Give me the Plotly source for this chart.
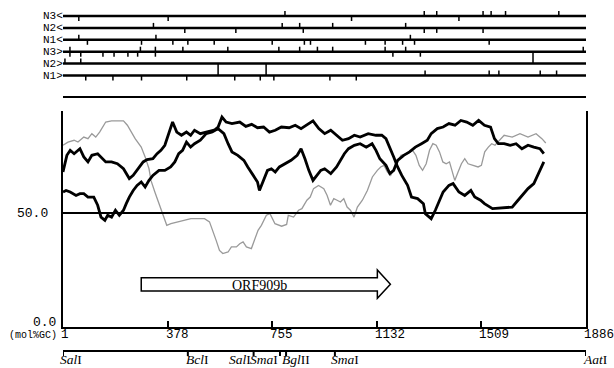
import plotly.graph_objects as go

# ---------------- data ----------------
# GC content curves (position in bp, mol% GC)
pos_a = [1, 15, 27, 41, 62, 76, 91, 105, 126, 143, 155, 176, 197, 219, 240, 254, 276, 290, 304, 325,
         340, 354, 368, 382, 396, 411, 428, 446, 461, 475, 496, 517, 546, 560, 574, 589, 610, 638, 660, 681,
         702, 724, 745, 766, 788, 816, 838, 859, 880, 902, 923, 944, 966, 987, 1008, 1030, 1051, 1072, 1101, 1129,
         1150, 1165, 1179, 1193, 1207, 1222, 1243, 1257, 1279, 1300, 1307, 1328, 1343, 1357, 1371, 1392, 1407, 1428, 1449, 1471,
         1485, 1506, 1520, 1549, 1577, 1599, 1620, 1641, 1663, 1677, 1698, 1712, 1727, 1734]
gc_a = [68.0, 75.3, 77.5, 76.0, 78.2, 74.6, 72.4, 75.3, 76.0, 73.8, 72.4, 72.4, 71.6, 69.4, 65.1, 66.5, 70.2, 72.4, 73.4, 73.8,
        76.0, 77.5, 79.7, 84.8, 89.9, 85.5, 84.1, 85.5, 84.1, 86.3, 84.8, 85.5, 86.3, 87.7, 92.1, 89.9, 89.2, 89.9, 88.0, 88.9,
        87.4, 87.7, 85.5, 86.3, 87.7, 87.4, 88.5, 87.0, 88.5, 90.4, 87.0, 84.8, 86.3, 84.1, 81.9, 82.6, 84.1, 83.3, 84.8, 84.1,
        84.1, 82.6, 78.9, 74.6, 70.2, 66.5, 62.1, 57.0, 56.3, 54.1, 49.7, 47.5, 51.2, 55.6, 59.2, 62.1, 62.9, 59.2, 57.7, 59.9,
        57.0, 55.6, 54.1, 51.9, 52.3, 52.6, 52.6, 55.6, 58.5, 60.7, 62.9, 66.5, 70.2, 72.4]

pos_b = [1, 12, 27, 48, 62, 76, 91, 112, 126, 138, 152, 162, 176, 190, 204, 219, 229, 240, 254, 268,
         283, 297, 311, 325, 347, 368, 389, 404, 418, 432, 446, 461, 475, 496, 517, 539, 560, 581, 596, 610,
         631, 653, 667, 688, 702, 709, 724, 738, 752, 766, 781, 802, 823, 845, 859, 873, 887, 902, 916, 930,
         944, 966, 987, 1001, 1015, 1030, 1051, 1072, 1094, 1115, 1129, 1143, 1165, 1179, 1193, 1207, 1229, 1250, 1271, 1293,
         1314, 1328, 1350, 1371, 1392, 1414, 1435, 1456, 1478, 1499, 1520, 1542, 1556, 1570, 1591, 1613, 1634, 1655, 1677, 1698,
         1720, 1734]
gc_b = [59.2, 59.9, 59.2, 57.7, 58.5, 58.5, 57.0, 57.0, 53.4, 48.2, 46.8, 49.0, 48.2, 51.2, 49.0, 51.2, 54.1, 57.0, 59.9, 62.1,
        63.6, 61.4, 64.3, 66.5, 68.7, 68.7, 70.2, 72.4, 76.0, 77.5, 81.1, 78.9, 80.4, 81.9, 84.8, 85.5, 87.0, 84.8, 80.4, 76.8,
        75.3, 73.1, 70.2, 66.5, 63.6, 59.9, 64.3, 68.7, 69.4, 68.0, 70.2, 71.6, 73.1, 75.3, 78.2, 73.8, 68.7, 64.3, 66.5, 68.7,
        69.4, 67.3, 70.2, 73.1, 76.0, 78.2, 79.7, 80.4, 78.9, 80.4, 77.5, 73.8, 70.9, 67.3, 68.7, 73.1, 75.3, 76.8, 78.9, 80.4,
        81.9, 84.8, 87.0, 87.7, 89.2, 88.5, 90.6, 89.9, 88.5, 90.6, 88.5, 87.7, 82.6, 80.4, 80.4, 79.7, 80.4, 78.2, 79.7, 78.9,
        78.2, 76.0]

pos_c = [1, 19, 41, 55, 76, 91, 105, 119, 133, 155, 176, 197, 219, 233, 247, 261, 283, 297, 311, 318,
         332, 347, 361, 375, 390, 414, 438, 462, 487, 511, 529, 541, 553, 565, 577, 596, 608, 626, 638, 650,
         662, 680, 692, 704, 716, 734, 747, 765, 789, 807, 813, 832, 850, 862, 880, 892, 904, 922, 941, 953,
         965, 977, 989, 1001, 1013, 1025, 1037, 1050, 1062, 1080, 1098, 1116, 1134, 1146, 1158, 1170, 1182, 1219, 1243, 1261,
         1273, 1285, 1297, 1310, 1322, 1334, 1346, 1358, 1370, 1382, 1394, 1407, 1413, 1425, 1437, 1449, 1461, 1479, 1497, 1509,
         1521, 1534, 1546, 1558, 1591, 1620, 1648, 1677, 1706, 1727, 1741]
gc_c = [79.7, 81.1, 81.9, 81.1, 83.3, 82.6, 84.8, 83.3, 85.5, 89.9, 90.4, 90.4, 90.4, 88.5, 85.5, 82.6, 78.9, 74.6, 69.4, 64.3,
        59.2, 54.1, 49.7, 44.6, 45.3, 46.1, 46.8, 47.5, 47.5, 47.5, 46.1, 42.4, 38.0, 33.6, 32.2, 32.9, 35.1, 35.1, 36.5, 37.3,
        35.1, 34.4, 38.0, 42.4, 44.6, 49.0, 49.7, 45.3, 44.2, 45.0, 49.0, 48.2, 51.2, 51.9, 55.6, 57.0, 60.7, 62.1, 60.7, 57.7,
        53.4, 56.3, 55.6, 54.8, 56.3, 52.6, 51.2, 48.2, 52.6, 55.6, 59.9, 65.8, 68.7, 70.2, 70.9, 68.0, 66.5, 75.3, 76.0, 77.5,
        75.3, 70.9, 68.7, 71.6, 77.5, 80.4, 79.7, 76.8, 72.4, 71.6, 72.4, 66.5, 64.3, 68.0, 71.6, 73.8, 71.6, 70.9, 70.2, 70.9,
        76.8, 78.9, 80.4, 79.7, 84.1, 83.3, 84.8, 83.3, 84.8, 82.6, 80.7]

# Reading frames (top to bottom) and codon marks (bp)
frames = ["N3<", "N2<", "N1<", "N3>", "N2>", "N1>"]
marks_up = [
    [801, 1303, 1348, 1515, 1544, 1596, 1788],
    [327, 791, 854, 973, 1236],
    [58, 336, 1253],
    [26, 280, 334, 433, 595, 779, 854, 918, 973, 1162, 1236, 1876],
    [8, 65],
    [1306, 1537, 1572, 1721, 1780],
]
marks_down = [
    [58, 380, 1041, 1428],
    [440, 624, 867, 1303, 1348, 1515],
    [89, 284, 397, 451, 546, 755, 871, 893, 1091, 1162, 1225, 1268, 1537],
    [26, 65, 145, 185, 235, 270, 334, 1190, 1289],
    [],
    [83, 181, 284, 447, 620, 712, 761, 963, 1058],
]
marks_long = [[], [], [], [1695], [560, 733], []]

seq_start, seq_end = 1, 1886
axis_ticks = [1, 378, 755, 1132, 1509, 1886]
y_ticks = [0.0, 50.0]

sites = [1, 451, 688, 783, 805, 981, 1886]
site_names = ["SalI", "BclI", "SalI", "SmaI", "BglII", "SmaI", "AatI"]

orf_name = "ORF909b"
orf_start, orf_end = 283, 1181

# ---------------- layout constants (pixels) ----------------
W, H = 614, 368
PX_L, PX_R = 63, 586
PX_Y0, PX_YTOP = 327, 111
Y_TOP_VAL = 50.0 * (PX_Y0 - PX_YTOP) / (PX_Y0 - 213)
ROW_TOP, ROW_STEP = 16, 11.9
ROW_Y = [ROW_TOP + i * ROW_STEP for i in range(len(frames))]
SEP_Y = 97
TICK = 5
MAP_Y = 351

MONO = "Liberation Mono, DejaVu Sans Mono, monospace"
SERIF = "Liberation Serif, Times New Roman, serif"

fig = go.Figure()

# GC curves
fig.add_trace(go.Scatter(x=pos_c, y=gc_c, mode="lines", line=dict(color="#9a9a9a", width=1.3),
                         hoverinfo="skip"))
for px_, gy in [(pos_a, gc_a), (pos_b, gc_b)]:
    fig.add_trace(go.Scatter(x=px_, y=gy, mode="lines", line=dict(color="black", width=2.8),
                             hoverinfo="skip"))

# 50% line
fig.add_trace(go.Scatter(x=[seq_start, seq_end], y=[50, 50], mode="lines",
                         line=dict(color="black", width=2), hoverinfo="skip"))

# ORF arrow
head = 47
y_lo, y_hi, y_hlo, y_hhi = 15.8, 21.6, 12.6, 25.0
path = (f"M {orf_start},{y_lo} L {orf_end-head},{y_lo} L {orf_end-head},{y_hlo} L {orf_end},{(y_lo+y_hi)/2} "
        f"L {orf_end-head},{y_hhi} L {orf_end-head},{y_hi} L {orf_start},{y_hi} Z")
fig.add_shape(type="path", path=path, xref="x", yref="y", line=dict(color="black", width=1.5),
              fillcolor="white")
fig.add_annotation(x=(orf_start + orf_end - head) / 2, y=(y_lo + y_hi) / 2 - 0.6, xref="x", yref="y",
                   text=orf_name, showarrow=False, font=dict(family=SERIF, size=14, color="black"))

# Frame rows (y2 in pixels from top)
fx, fy = [], []
for r in range(len(frames)):
    y0 = ROW_Y[r]
    fx += [seq_start, seq_end, None]
    fy += [y0, y0, None]
fig.add_trace(go.Scatter(x=fx, y=fy, yaxis="y2", mode="lines", line=dict(color="black", width=2.5),
                         hoverinfo="skip"))
tx, ty = [], []
for r in range(len(frames)):
    y0 = ROW_Y[r]
    for p in marks_up[r]:
        tx += [p, p, None]; ty += [y0, y0 - TICK, None]
    for p in marks_down[r]:
        tx += [p, p, None]; ty += [y0, y0 + TICK, None]
    for p in marks_long[r]:
        tx += [p, p, None]; ty += [y0, ROW_Y[r + 1], None]
fig.add_trace(go.Scatter(x=tx, y=ty, yaxis="y2", mode="lines", line=dict(color="black", width=1.5),
                         hoverinfo="skip"))
fig.add_trace(go.Scatter(x=[seq_start, seq_end], y=[SEP_Y, SEP_Y], yaxis="y2", mode="lines",
                         line=dict(color="black", width=2.2), hoverinfo="skip"))
for r, name in enumerate(frames):
    fig.add_annotation(x=(PX_L + 1) / W, xref="paper", y=ROW_Y[r], yref="y2", xanchor="right", yanchor="middle",
                       text=name.replace("<", "&lt;").replace(">", "&gt;"), showarrow=False, borderpad=0,
                       font=dict(family=MONO, size=11, color="black"))

# Restriction map (y3 in pixels from top)
mx, my = [seq_start, seq_end, None], [MAP_Y, MAP_Y, None]
for s in sites:
    mx += [s, s, None]; my += [MAP_Y, MAP_Y + 5, None]
fig.add_trace(go.Scatter(x=mx, y=my, yaxis="y3", mode="lines", line=dict(color="black", width=2),
                         hoverinfo="skip"))
anchors = ["left", "left", "right", "right", "left", "left", "left"]
shifts = [-4, -3, -2, -1, -5, -5, -4]
for s, n, a, sh in zip(sites, site_names, anchors, shifts):
    cut = 3
    fig.add_annotation(x=s, xref="x", y=H, yref="y3", xanchor=a, yanchor="bottom", xshift=sh,
                       text=f"<i>{n[:cut]}</i>{n[cut:]}", showarrow=False, borderpad=0,
                       font=dict(family=SERIF, size=13.5, color="black"))

# axis tick labels
for t in axis_ticks:
    fig.add_annotation(x=t, xref="x", y=1 - 335 / H, yref="paper", xanchor="left", yanchor="middle",
                       xshift=-3, text=str(t), showarrow=False, borderpad=0,
                       font=dict(family=MONO, size=12.5, color="black"))
fig.add_annotation(x=(PX_L - 5) / W, xref="paper", y=1 - 335 / H, yref="paper", xanchor="right",
                   yanchor="middle", text="(mol%GC)", showarrow=False, borderpad=0,
                   font=dict(family=MONO, size=10, color="black"))
for v, xr, ysh in zip(y_ticks, [PX_L - 6, PX_L - 14], [5, 0]):
    fig.add_annotation(x=xr / W, xref="paper", y=v, yref="y", xanchor="right", yanchor="middle", yshift=ysh,
                       text=f"{v:.1f}", showarrow=False, borderpad=0,
                       font=dict(family=MONO, size=13, color="black"))

fig.update_layout(
    width=W, height=H, margin=dict(l=0, r=0, t=0, b=0),
    paper_bgcolor="white", plot_bgcolor="white", showlegend=False,
    xaxis=dict(domain=[PX_L / W, PX_R / W], range=[seq_start, seq_end], showgrid=False, zeroline=False,
               showline=True, linecolor="black", linewidth=2, ticks="inside", tickvals=axis_ticks[1:-1],
               ticklen=6, tickwidth=1.5, tickcolor="black", showticklabels=False, anchor="y"),
    yaxis=dict(domain=[1 - PX_Y0 / H, 1 - PX_YTOP / H], range=[0, Y_TOP_VAL], showgrid=False, zeroline=False,
               showline=True, mirror=True, linecolor="black", linewidth=2, ticks="", showticklabels=False),
    yaxis2=dict(domain=[1 - 100 / H, 1], range=[100, 0], visible=False, anchor="x"),
    yaxis3=dict(domain=[0, 30 / H], range=[H, H - 30], visible=False, anchor="x"),
)

fig.write_html("out.html", config={"displayModeBar": False},
               post_script="document.body.style.margin='0px';")
